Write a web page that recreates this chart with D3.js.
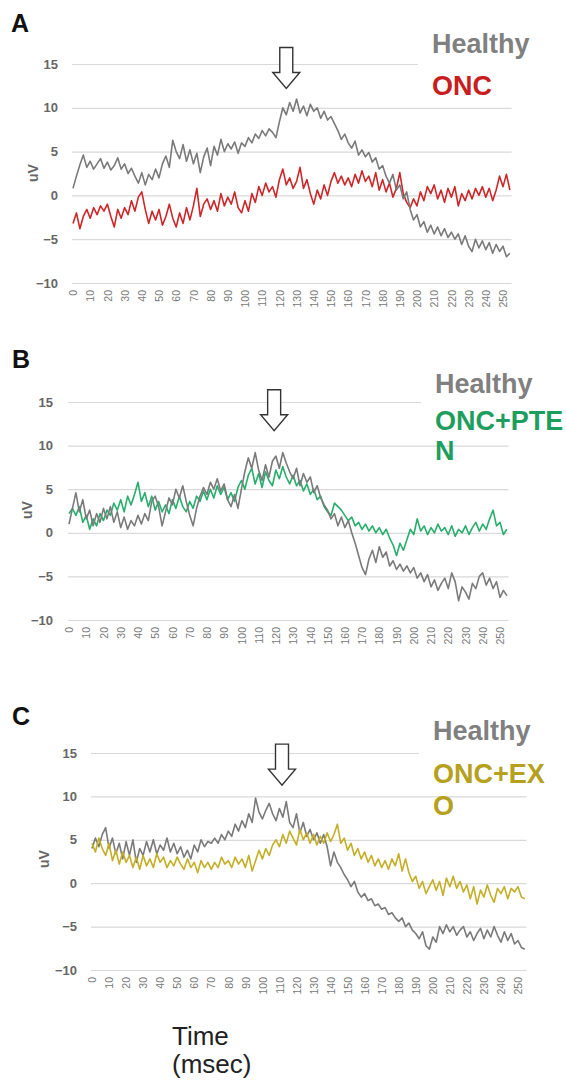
<!DOCTYPE html>
<html>
<head>
<meta charset="utf-8">
<script src="https://cdn.jsdelivr.net/npm/d3@7"></script>
<style>
  body { margin: 0; background: #fff; }
  svg { display: block; font-family: "Liberation Sans", Arial, sans-serif; }
</style>
</head>
<body>
<svg id="chart" width="566" height="1082"></svg>
<script>
// sample times (msec), one value every 2 ms
var timeMs = d3.range(0, 256, 2);

var xTicks = [0, 10, 20, 30, 40, 50, 60, 70, 80, 90, 100, 110, 120, 130, 140, 150, 160, 170, 180, 190, 200, 210, 220, 230, 240, 250];
var yTicks = [-10, -5, 0, 5, 10, 15];

// panel A
var healthyA = [
  0.8, 2.2, 3.5, 4.6, 3.2,  3.9, 3.0, 3.6, 4.2, 3.1,  3.8, 2.9, 3.4, 4.3, 3.0,
  3.6, 2.5, 3.1, 2.2, 1.4,  2.6, 1.2, 2.4, 1.8, 3.0,  2.0, 3.6, 4.5, 3.2, 6.3,
  5.0, 4.2, 5.8, 3.9, 5.2,  3.6, 4.8, 2.6, 4.4, 5.4,  3.4, 5.6, 4.6, 6.4, 5.0,
  5.9, 5.3, 6.1, 4.8, 6.0,  5.6, 6.6, 6.0, 7.0, 6.5,  7.4, 6.8, 7.6, 7.2, 6.6,
  8.4, 10.0, 9.2, 10.6, 9.6,  11.0, 9.4, 10.2, 9.1, 10.4,  9.6, 10.0, 8.8, 9.6, 8.6,
  9.0, 8.2, 7.4, 6.4, 7.0,  6.0, 5.4, 6.2, 4.6, 5.2,  4.4, 4.9, 3.8, 4.3, 3.0,
  3.4, 2.2, 1.4, 2.4, 0.6,  1.2, -0.4, 0.4, -1.6, -2.8,  -2.2, -3.6, -3.0, -4.2, -3.4,
  -4.4, -3.6, -4.6, -3.8, -4.8,  -4.2, -5.0, -4.4, -5.6, -4.6,  -5.8, -6.4, -5.0, -6.0, -5.2,
  -6.2, -5.4, -6.6, -5.6, -6.4,  -5.8, -7.0, -6.6
];
var oncA = [
  -3.2, -2.0, -3.8, -2.4, -1.6,  -2.6, -1.4, -2.2, -1.2, -1.8,  -1.0, -2.4, -3.6, -1.6, -2.6,
  -1.4, -2.2, -0.6, -1.8, -0.2,  0.4, -1.6, -3.2, -1.8, -2.8,  -1.6, -3.4, -2.4, -1.0, -2.6,
  -3.6, -2.0, -3.2, -1.4, -2.8,  -1.2, 0.8, -2.4, -1.0, -0.4,  -1.6, -0.6, -1.8, 0.2, -1.2,
  -0.2, -1.0, 0.4, -1.4, -2.0,  -0.6, -1.8, 0.2, -0.8, 1.0,  0.0, 1.4, 0.4, 1.0, -0.2,
  1.8, 3.0, 1.2, 2.0, 0.8,  1.6, 3.2, 0.8, 1.8, 0.2,  -1.0, 0.6, -0.4, 1.2, 0.0,
  1.6, 2.6, 1.4, 2.2, 1.2,  2.0, 1.0, 2.4, 1.4, 2.8,  1.6, 2.2, 1.0, 2.6, 0.6,
  1.8, 0.4, 1.4, -0.2, 0.8,  2.6, 0.2, -0.8, -1.4, -0.4,  -1.2, 0.4, -0.6, 1.0, 0.2,
  1.2, -0.4, 0.6, -0.8, 0.8,  -0.2, 1.0, -1.2, 0.2, -0.6,  0.6, -0.4, 0.8, 0.0, 1.0,
  -0.2, 0.8, -0.6, 0.6, 2.2,  1.0, 2.4, 0.6
];

// panel B
var healthyB = [
  1.0, 2.8, 4.6, 2.4, 3.8,  1.6, 2.6, 0.8, 2.2, 1.2,  2.8, 1.6, 3.0, 1.2, 2.4,
  0.6, 1.8, 0.4, 1.4, 0.8,  2.0, 1.0, 2.2, 1.4, 3.6,  4.2, 3.0, 0.8, 2.4, 4.0,
  3.2, 5.0, 4.0, 5.4, 3.6,  2.0, 0.8, 2.8, 4.2, 5.2,  4.4, 5.8, 5.0, 6.2, 4.8,
  5.6, 3.8, 3.0, 4.4, 2.8,  5.0, 7.0, 8.6, 7.4, 9.2,  7.2, 6.0, 7.8, 6.4, 8.2,
  8.8, 7.4, 9.2, 8.0, 7.0,  6.2, 7.4, 5.4, 6.8, 5.8,  6.4, 4.6, 5.4, 4.0, 3.2,
  2.6, 1.6, 2.2, 0.8, 1.8,  0.6, 1.4, 0.0, -1.2, -2.6,  -4.0, -4.8, -3.0, -2.0, -3.4,
  -1.6, -2.8, -2.2, -3.8, -3.2,  -4.2, -3.6, -4.4, -3.8, -4.6,  -4.0, -5.2, -4.6, -5.6, -4.8,
  -6.2, -5.4, -6.6, -5.8, -5.2,  -6.4, -4.6, -5.6, -7.8, -6.2,  -6.8, -7.6, -5.8, -6.4, -5.0,
  -4.6, -6.0, -5.2, -6.4, -5.6,  -7.4, -6.6, -7.2
];
var oncPtenB = [
  2.2, 2.8, 2.0, 3.0, 1.2,  2.0, 0.4, 1.6, 0.8, 2.2,  1.4, 2.6, 2.0, 3.4, 2.6,
  3.8, 2.4, 4.2, 3.2, 4.4,  5.8, 3.6, 4.6, 3.0, 4.2,  2.6, 3.6, 2.4, 3.2, 2.2,
  3.8, 2.8, 4.2, 3.0, 2.4,  3.6, 2.8, 4.2, 3.6, 4.8,  3.8, 5.0, 4.0, 5.4, 4.4,
  5.2, 3.8, 4.6, 3.6, 5.2,  6.0, 5.0, 6.6, 7.4, 5.6,  6.8, 5.2, 7.0, 6.0, 5.4,
  7.2, 6.2, 7.6, 6.4, 5.6,  6.6, 5.4, 6.0, 4.8, 5.6,  4.4, 5.0, 3.8, 4.2, 3.0,
  2.4, 2.0, 3.4, 3.0, 2.6,  2.0, 1.4, 1.8, 0.8, 1.2,  0.4, 1.0, 0.2, 0.8, 0.0,
  0.6, -0.2, 0.4, -0.6, -1.4,  -2.6, -1.2, -2.0, -0.8, 0.4,  -0.2, 1.6, 0.2, 0.8, -0.2,
  0.6, 0.0, 1.0, 0.2, 0.6,  -0.2, 0.8, -0.4, 0.4, 0.0,  0.8, -0.2, 0.6, 1.2, 0.2,
  1.0, 0.4, 1.6, 2.6, 0.8,  1.2, -0.2, 0.4
];

// panel C
var healthyC = [
  4.0, 5.2, 4.2, 5.6, 6.4,  4.0, 5.2, 3.4, 4.6, 2.8,  4.8, 3.2, 5.0, 2.4, 4.0,
  3.2, 4.8, 3.6, 5.0, 3.4,  4.4, 3.8, 5.2, 3.6, 4.6,  3.4, 4.2, 3.0, 3.8, 2.8,
  4.4, 3.6, 5.0, 4.2, 4.8,  4.6, 5.2, 4.6, 5.6, 5.0,  6.0, 5.4, 6.8, 6.0, 7.2,
  6.4, 8.0, 7.0, 9.8, 8.2,  7.4, 8.4, 9.2, 8.0, 7.2,  8.6, 7.6, 9.4, 7.0, 6.4,
  8.0, 5.8, 7.0, 5.4, 6.2,  5.0, 5.8, 4.6, 5.6, 4.2,  2.0, 3.6, 2.4, 1.8, 1.0,
  0.4, -0.4, 0.2, -1.0, -1.6,  -1.2, -2.0, -1.8, -2.6, -2.4,  -3.0, -2.8, -3.6, -3.4, -4.0,
  -4.4, -4.0, -5.0, -4.6, -5.4,  -5.8, -6.4, -5.6, -7.2, -7.6,  -6.2, -6.8, -5.0, -5.8, -4.8,
  -5.6, -5.0, -6.0, -5.4, -5.0,  -6.2, -5.6, -6.6, -5.8, -5.2,  -6.4, -5.4, -6.2, -5.0, -6.0,
  -6.8, -5.6, -6.6, -5.8, -7.0,  -6.6, -7.4, -7.6
];
var oncExoC = [
  4.6, 3.6, 5.2, 4.0, 3.2,  4.6, 2.6, 3.8, 2.2, 3.6,  2.4, 3.2, 1.8, 3.0, 1.6,
  3.2, 2.0, 2.8, 1.8, 3.4,  2.4, 3.0, 1.8, 2.6, 2.0,  3.0, 2.2, 1.6, 2.8, 1.8,
  2.4, 1.2, 2.6, 1.8, 2.4,  1.6, 2.4, 1.8, 3.0, 2.2,  2.6, 1.8, 3.0, 2.2, 2.8,
  1.8, 3.2, 1.4, 2.6, 3.8,  2.8, 4.0, 3.2, 4.4, 5.0,  4.2, 5.6, 4.6, 6.0, 5.2,
  4.4, 6.2, 5.0, 5.8, 4.6,  5.6, 4.4, 5.4, 4.6, 5.8,  4.8, 5.6, 6.8, 4.6, 5.2,
  3.8, 4.6, 3.2, 4.0, 2.8,  3.6, 2.4, 3.2, 2.0, 2.8,  1.8, 2.6, 1.6, 2.8, 2.0,
  3.4, 1.4, 2.8, 1.2, 0.2,  0.8, -0.6, 0.2, -1.2, -0.4,  0.4, -0.8, 0.2, -1.4, 0.6,
  -0.4, 0.8, -0.6, 0.2, -1.0,  -0.2, -1.8, -0.4, -2.4, -0.8,  -1.6, -0.2, -1.4, -2.2, -0.6,
  -1.2, -0.4, -1.8, -0.6, -1.0,  -0.4, -1.6, -1.8
];

// arrow tips [msec, uV]
var arrowA = [124, 12.2];
var arrowB = [119, 11.7];
var arrowC = [111.5, 11.3];

var healthyColor = "#7a7a7a";

var panels = [
  { letter: "A", lx: 11, ly: 32, x0: 73, x1: 511.6, yTop: 64, yBot: 283, labelRight: 58, xLabTop: 290,
    uv: [33, 173], legX: 432, legend: [["Healthy", 53, "#808080"], ["ONC", 95, "#c81e1e"]], legBg: [30, 100],
    series: [oncA, healthyA], color: "#cc2629", arrow: arrowA },
  { letter: "B", lx: 12, ly: 368, x0: 69, x1: 508.6, yTop: 402, yBot: 620, labelRight: 53, xLabTop: 627,
    uv: [27, 510], legX: 435, legend: [["Healthy", 393, "#808080"], ["ONC+PTE", 430, "#1e9e5e"], ["N", 460, "#1e9e5e"]], legBg: [366, 442],
    series: [oncPtenB, healthyB], color: "#27ad6c", arrow: arrowB },
  { letter: "C", lx: 12, ly: 725, x0: 92, x1: 526.5, yTop: 753, yBot: 970, labelRight: 77, xLabTop: 977,
    uv: [44, 859], legX: 433, legend: [["Healthy", 740, "#808080"], ["ONC+EX", 783, "#b5a020"], ["O", 815, "#b5a020"]], legBg: [715, 793],
    series: [healthyC, oncExoC], color: "#c4ae26", arrow: arrowC }
];

var svg = d3.select("#chart");

panels.forEach(function (p) {
  var g = svg.append("g");
  var x = d3.scaleLinear().domain([0, 255]).range([p.x0, p.x1]);
  var y = d3.scaleLinear().domain([-10, 15]).range([p.yBot, p.yTop]);

  // y axis with gridlines
  var yAxis = g.append("g")
    .attr("transform", "translate(" + (p.x0 - 1) + ",0)")
    .call(d3.axisLeft(y).tickValues(yTicks).tickSize(-(p.x1 - p.x0 + 1)).tickPadding(p.x0 - 1 - p.labelRight));
  yAxis.select(".domain").remove();
  yAxis.selectAll("line").attr("stroke", "#d9d9d9").attr("stroke-width", 1.2);
  yAxis.selectAll("text")
    .attr("fill", "#666")
    .style("font-size", "13px")
    .style("font-weight", "bold");

  // x axis labels, rotated
  var xAxis = g.append("g")
    .attr("transform", "translate(0," + p.yBot + ")")
    .call(d3.axisBottom(x).tickValues(xTicks).tickSize(0));
  xAxis.select(".domain").remove();
  xAxis.selectAll("text")
    .attr("transform", "rotate(-90)")
    .attr("text-anchor", "end")
    .attr("x", -(p.xLabTop - p.yBot))
    .attr("y", 0)
    .attr("dy", "0.35em")
    .attr("fill", "#777")
    .style("font-size", "10.5px");

  // legend background covers the top gridline
  g.append("rect")
    .attr("x", p.legX - 14)
    .attr("y", p.legBg[0])
    .attr("width", 566 - p.legX + 14)
    .attr("height", p.legBg[1] - p.legBg[0])
    .attr("fill", "#fff");

  // uV label
  g.append("text")
    .attr("transform", "translate(" + p.uv[0] + "," + p.uv[1] + ") rotate(-90)")
    .attr("text-anchor", "middle")
    .attr("dy", "0.35em")
    .attr("fill", "#666")
    .style("font-size", "14px")
    .style("font-weight", "bold")
    .text("uV");

  // traces
  var line = d3.line()
    .x(function (d, i) { return x(timeMs[i]); })
    .y(function (d) { return y(d); });

  g.selectAll("path.trace")
    .data(p.series)
    .enter()
    .append("path")
    .attr("class", "trace")
    .attr("d", line)
    .attr("fill", "none")
    .attr("stroke", function (d) { return (d === healthyA || d === healthyB || d === healthyC) ? healthyColor : p.color; })
    .attr("stroke-width", 1.6)
    .attr("stroke-linejoin", "round");

  // legend text
  g.selectAll("text.leg")
    .data(p.legend)
    .enter()
    .append("text")
    .attr("class", "leg")
    .attr("x", p.legX)
    .attr("y", function (d) { return d[1]; })
    .attr("fill", function (d) { return d[2]; })
    .style("font-size", "27px")
    .style("font-weight", "bold")
    .text(function (d) { return d[0]; });

  // panel letter
  g.append("text")
    .attr("x", p.lx)
    .attr("y", p.ly)
    .attr("fill", "#111")
    .style("font-size", "25px")
    .style("font-weight", "bold")
    .text(p.letter);

  // hollow arrow
  var tx = x(p.arrow[0]), ty = y(p.arrow[1]);
  g.append("path")
    .attr("d", "M" + (tx - 6.5) + "," + (ty - 41) + "H" + (tx + 6.5) + "V" + (ty - 16) + "H" + (tx + 13.5) +
      "L" + tx + "," + ty + "L" + (tx - 13.5) + "," + (ty - 16) + "H" + (tx - 6.5) + "Z")
    .attr("fill", "#fff")
    .attr("stroke", "#333")
    .attr("stroke-width", 1.4)
    .attr("stroke-linejoin", "miter");
});

// shared x axis title
svg.append("text")
  .attr("fill", "#222")
  .style("font-size", "26px")
  .selectAll("tspan")
  .data(["Time", "(msec)"])
  .enter()
  .append("tspan")
  .attr("x", 172)
  .attr("y", function (d, i) { return i === 0 ? 1045 : 1073; })
  .text(function (d) { return d; });
</script>
</body>
</html>
